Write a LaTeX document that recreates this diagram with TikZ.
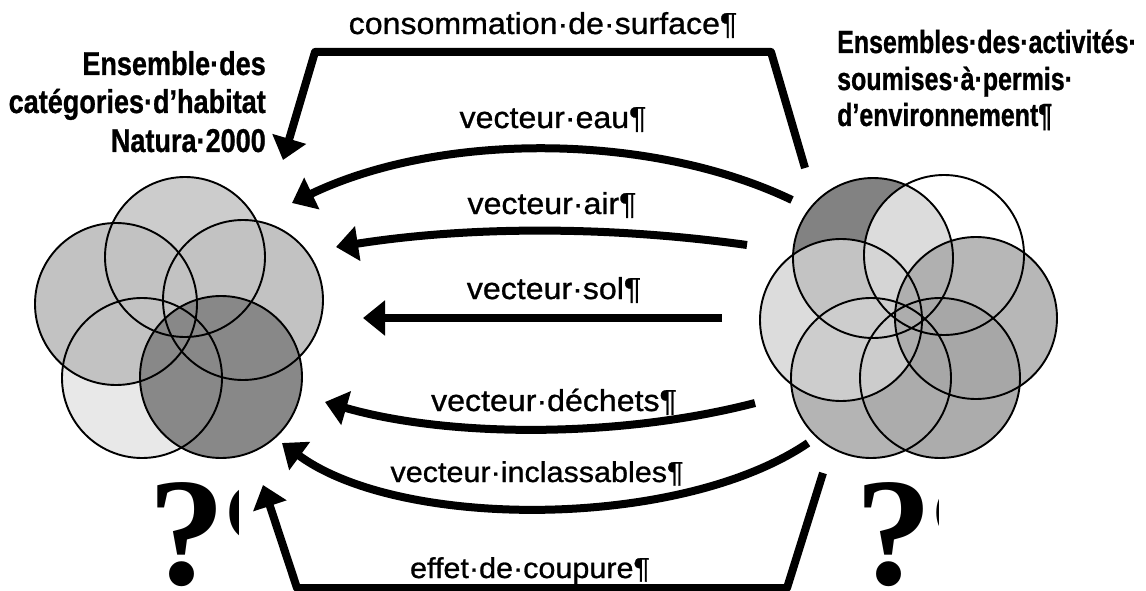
\documentclass[tikz,border=0pt]{standalone}
\usepackage{fontspec}
\setmainfont{Liberation Sans}
\newfontfamily\lblfont{Liberation Sans}[FakeStretch=1.06, FakeBold=0.9]
\newfontfamily\ttlfont{Liberation Sans}[FakeStretch=0.82, FakeBold=0.8]
\newfontfamily\ttlrfont{Liberation Sans}[FakeStretch=0.78, FakeBold=0.8]
\newfontfamily\qmfont{Liberation Serif}
\usetikzlibrary{arrows.meta}

\begin{document}
\begin{tikzpicture}[x=1pt,y=-1pt,
  flow/.style={line width=8pt, line join=round, -{Triangle[length=22pt,width=34pt]}},
  lbl/.style={anchor=base, inner sep=0pt, font=\lblfont\fontsize{30.3}{36}\selectfont},
  lblsmall/.style={lbl, font=\lblfont\fontsize{28.8}{34}\selectfont},
  ttl/.style={inner sep=0pt, font=\ttlfont\bfseries\fontsize{33}{38}\selectfont},
  ttlr/.style={inner sep=0pt, anchor=base west, font=\ttlrfont\bfseries\fontsize{32}{36}\selectfont},
  qmark/.style={inner sep=0pt, anchor=base west, font=\qmfont\bfseries\fontsize{154}{154}\selectfont},
  ring/.style={draw=black, line width=1.9pt}]

\useasboundingbox (0,0) rectangle (1146,591);
\fill[white] (0,0) rectangle (1146,591);

% ---- habitat circles (left) ----
\coordinate (hT)  at (185,257);
\coordinate (hL)  at (116,304);
\coordinate (hR)  at (243,300);
\coordinate (hBL) at (142,378);
\coordinate (hBR) at (221,377);
\fill[fill={rgb,255:red,232;green,232;blue,232}] (hBL) circle[radius=80pt];
\fill[fill={rgb,255:red,204;green,204;blue,204}] (hT)  circle[radius=80pt];
\fill[fill={rgb,255:red,194;green,194;blue,194}] (hL)  circle[radius=81pt];
\fill[fill={rgb,255:red,194;green,194;blue,194}] (hR)  circle[radius=80pt];
\fill[fill={rgb,255:red,136;green,136;blue,136}] (hBR) circle[radius=81pt];
\draw[ring] (hBL) circle[radius=80pt];
\draw[ring] (hT)  circle[radius=80pt];
\draw[ring] (hL)  circle[radius=81pt];
\draw[ring] (hR)  circle[radius=80pt];
\draw[ring] (hBR) circle[radius=81pt];

% ---- activity circles (right) ----
\coordinate (aTL) at (873,258);
\coordinate (aTR) at (944,255);
\coordinate (aL)  at (841,320);
\coordinate (aR)  at (976,318);
\coordinate (aBL) at (871,378);
\coordinate (aBR) at (940,378);
\fill[fill={rgb,255:red,130;green,130;blue,130}] (aTL) circle[radius=80pt];
\fill[white, fill opacity=0.72] (aTR) circle[radius=80pt];
\fill[fill={rgb,255:red,180;green,180;blue,180}] (aBL) circle[radius=80pt];
\fill[fill={rgb,255:red,172;green,172;blue,172}] (aBR) circle[radius=80pt];
\fill[fill={rgb,255:red,212;green,212;blue,212}, fill opacity=0.8] (aL) circle[radius=81pt];
\fill[fill={rgb,255:red,166;green,166;blue,166}, fill opacity=0.8] (aR) circle[radius=81pt];
\foreach \c/\r in {aTL/80,aTR/80,aBL/80,aBR/80,aL/81,aR/81}
  \draw[ring] (\c) circle[radius=\r pt];

% ---- titles ----
\node[ttl, anchor=base east] (h1) at (266,75)  {Ensemble·des};
\node[ttl, anchor=base east] (h2) at (266,113) {catégories·d’habitat};
\node[ttl, anchor=base east] (h3) at (266,152) {Natura·2000};
\node[ttlr] (a1) at (837,53)  {Ensembles·des·activités·};
\node[ttlr] (a2) at (837,90)  {soumises·à·permis·};
\node[ttlr] (a3) at (837,126) {d’environnement¶};

% ---- flow labels ----
\node[lbl] (lsurf) at (543,34)  {consommation·de·surface¶};
\node[lbl] (leau)  at (553,128) {vecteur·eau¶};
\node[lbl] (lair)  at (552,214) {vecteur·air¶};
\node[lbl] (lsol)  at (554,299) {vecteur·sol¶};
\node[lbl] (ldech) at (554,411) {vecteur·déchets¶};
\node[lblsmall] (linc) at (537,482) {vecteur·inclassables¶};
\node[lblsmall] (lcoup) at (530,578) {effet·de·coupure¶};

% ---- connector end points ----
\coordinate (surfS) at (805,168);
\coordinate (surfA) at (771,52);
\coordinate (surfB) at (315,52);
\coordinate (surfE) at (283,160);
\coordinate (eauS)  at (792,200);
\coordinate (eauE)  at (292,203);
\coordinate (airS)  at (747,245);
\coordinate (airE)  at (336,247);
\coordinate (solS)  at (722,318);
\coordinate (solE)  at (363,318);
\coordinate (decS)  at (755,403);
\coordinate (decE)  at (325,402);
\coordinate (incS)  at (808,443);
\coordinate (incE)  at (282,443);
\coordinate (coupS) at (823,473);
\coordinate (coupA) at (787,588);
\coordinate (coupB) at (297,588);
\coordinate (coupE) at (263,485);

% ---- flows ----
\draw[flow] (surfS) -- (surfA) -- (surfB) -- (surfE);
\draw[flow] (eauS) .. controls (650,132) and (440,132) .. (eauE);
\draw[flow] (airS) .. controls (610,226) and (470,226) .. (airE);
\draw[flow] (solS) -- (solE);
\draw[flow] (decS) .. controls (620,438) and (450,438) .. (decE);
\draw[flow] (incS) .. controls (680,530) and (400,530) .. (incE);
\draw[flow] (coupS) -- (coupA) -- (coupB) -- (coupE);

% ---- question marks ----
\begin{scope}
  \clip (130,460) rectangle (238,600);
  \node[qmark] (qh) at (148,584) {?\kern-3pt¶};
\end{scope}
\begin{scope}
  \clip (840,460) rectangle (938,600);
  \node[qmark] (qa) at (855,584) {?\kern-3pt¶};
\end{scope}
\end{tikzpicture}
\end{document}
